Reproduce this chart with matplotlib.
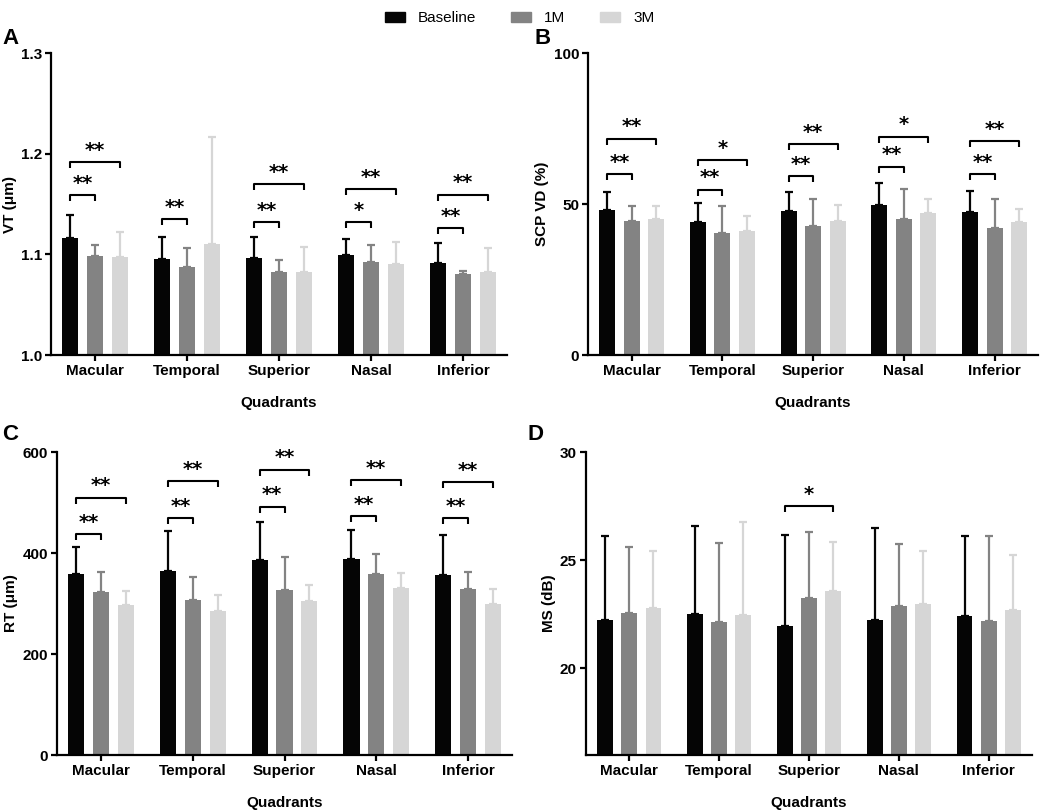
import numpy as np
import matplotlib
matplotlib.use('Agg')
import matplotlib.pyplot as plt
from matplotlib.patches import Patch

plt.rcParams['font.family'] = ['Liberation Sans', 'DejaVu Sans']

quadrants = ['Macular', 'Temporal', 'Superior', 'Nasal', 'Inferior']
groups = ['Baseline', '1M', '3M']
colors = ['#050505', '#838383', '#d6d6d6']

# panel A - VT
vt_mean = [[1.116, 1.095, 1.096, 1.099, 1.091],
           [1.098, 1.087, 1.082, 1.092, 1.080],
           [1.097, 1.110, 1.082, 1.090, 1.082]]
vt_sd = [[0.023, 0.022, 0.021, 0.016, 0.020],
         [0.011, 0.019, 0.012, 0.017, 0.003],
         [0.025, 0.107, 0.025, 0.022, 0.024]]
vt_sig = [(0, 1, 1.159, '**'), (0, 2, 1.192, '**'), (1, 1, 1.135, '**'),
          (2, 1, 1.1317, '**'), (2, 2, 1.170, '**'), (3, 1, 1.1317, '*'),
          (3, 2, 1.1647, '**'), (4, 1, 1.1264, '**'), (4, 2, 1.1594, '**')]

# panel B - SCP VD
vd_mean = [[47.9, 43.9, 47.6, 49.6, 47.4],
           [44.3, 40.4, 42.6, 45.1, 42.1],
           [45.1, 41.2, 44.4, 47.1, 43.9]]
vd_sd = [[6.0, 6.3, 6.3, 7.4, 6.8],
         [4.9, 8.8, 9.2, 9.9, 9.5],
         [4.1, 5.0, 5.4, 4.5, 4.4]]
vd_sig = [(0, 1, 59.9, '**'), (0, 2, 71.7, '**'), (1, 1, 54.8, '**'),
          (1, 2, 64.5, '*'), (2, 1, 59.2, '**'), (2, 2, 69.9, '**'),
          (3, 1, 62.4, '**'), (3, 2, 72.3, '*'), (4, 1, 60.0, '**'),
          (4, 2, 70.8, '**')]

# panel C - RT
rt_mean = [[359, 365, 386, 388, 357],
           [322, 307, 326, 358, 328],
           [297, 285, 306, 331, 299]]
rt_sd = [[53, 79, 75, 57, 78],
         [40, 45, 66, 40, 35],
         [28, 32, 30, 30, 29]]
rt_sig = [(0, 1, 437, '**'), (0, 2, 510, '**'), (1, 1, 469.5, '**'),
          (1, 2, 543, '**'), (2, 1, 492, '**'), (2, 2, 565, '**'),
          (3, 1, 473, '**'), (3, 2, 545, '**'), (4, 1, 469, '**'),
          (4, 2, 541, '**')]

# panel D - MS
ms_mean = [[22.25, 22.50, 21.97, 22.25, 22.43],
           [22.57, 22.14, 23.25, 22.90, 22.18],
           [22.78, 22.45, 23.57, 22.97, 22.68]]
ms_sd = [[3.87, 4.07, 4.20, 4.25, 3.71],
         [3.03, 3.66, 3.05, 2.85, 3.96],
         [2.64, 4.33, 2.29, 2.46, 2.55]]
ms_sig = [(2, 2, 27.49, '*')]

fig = plt.figure(figsize=(10.52, 8.10), dpi=100)

x = np.arange(len(quadrants))
step = 0.27
width = 0.175


def panel(rect, mean, sd, sig, ylim, yticks, yfmt, ylabel, letter, letter_xy):
    ax = fig.add_axes(rect)
    for i in range(3):
        xi = x + (i - 1) * step
        ax.bar(xi, mean[i], width, bottom=0, color=colors[i], zorder=2)
        ax.errorbar(xi, mean[i], yerr=[np.zeros(5), sd[i]], fmt='none',
                    ecolor=colors[i], elinewidth=1.6, capsize=3.2,
                    capthick=1.6, zorder=1)
    ax.set_ylim(*ylim)
    ax.set_xlim(-0.48, 4.48)
    ax.set_yticks(yticks)
    ax.set_yticklabels([yfmt.format(t) for t in yticks])
    ax.set_xticks(x)
    ax.set_xticklabels(quadrants)
    for s in ['top', 'right']:
        ax.spines[s].set_visible(False)
    for s in ['left', 'bottom']:
        ax.spines[s].set_linewidth(1.6)
    ax.tick_params(width=1.6, length=4.5, labelsize=11, pad=2)
    for lab in ax.get_xticklabels() + ax.get_yticklabels():
        lab.set_fontweight('bold')
    ax.set_ylabel(ylabel, fontsize=11, fontweight='bold', labelpad=3)
    ax.set_xlabel('Quadrants', fontsize=11, fontweight='bold', labelpad=13)
    dy = 0.02 * (ylim[1] - ylim[0])
    for g, j, y, lab in sig:
        x0 = x[g] - step
        x1 = x[g] + (j - 1) * step
        ax.plot([x0, x0, x1, x1], [y - dy, y, y, y - dy], color='black',
                lw=1.5, solid_capstyle='butt', zorder=3)
        ax.annotate(lab, xy=((x0 + x1) / 2, y), xytext=(0, 4.5),
                    textcoords='offset points', ha='center', va='baseline',
                    fontsize=14, fontweight='bold', family='DejaVu Sans')
    fig.text(letter_xy[0], letter_xy[1], letter, fontsize=16,
             fontweight='bold', ha='left', va='center')
    return ax


panel([0.0485, 0.5617, 0.4335, 0.3728], vt_mean, vt_sd, vt_sig,
      (1.0, 1.3), [1.0, 1.1, 1.2, 1.3], '{:.1f}', 'VT (μm)', 'A',
      (0.002, 0.953))
panel([0.559, 0.5617, 0.4278, 0.3728], vd_mean, vd_sd, vd_sig,
      (0, 100), [0, 50, 100], '{:d}', 'SCP VD (%)', 'B', (0.508, 0.953))
panel([0.0542, 0.0679, 0.4325, 0.374], rt_mean, rt_sd, rt_sig,
      (0, 600), [0, 200, 400, 600], '{:d}', 'RT (μm)', 'C', (0.002, 0.463))
panel([0.557, 0.0679, 0.424, 0.374], ms_mean, ms_sd, ms_sig,
      (16, 30), [20, 25, 30], '{:d}', 'MS (dB)', 'D', (0.501, 0.463))

handles = [Patch(color=c) for c in colors]
fig.legend(handles, groups, loc='upper center', bbox_to_anchor=(0.494, 1.003),
           ncol=3, frameon=False, fontsize=11, handlelength=1.3,
           handleheight=0.55, columnspacing=2.3, handletextpad=0.85)

fig.savefig('out.png', dpi=100)
